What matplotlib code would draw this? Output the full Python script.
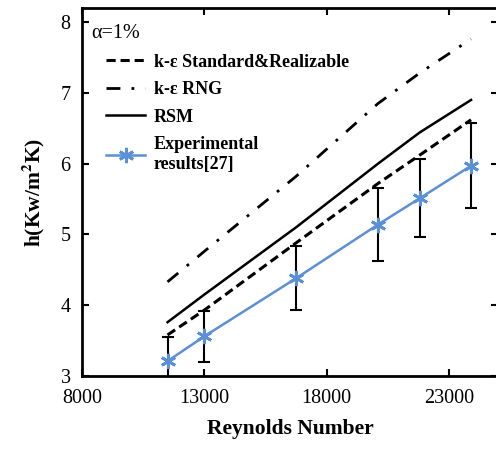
import numpy as np
import matplotlib
matplotlib.use('Agg')
import matplotlib.pyplot as plt
import matplotlib.ticker as ticker

plt.rcParams['font.family'] = ['Liberation Serif', 'DejaVu Serif']
plt.rcParams['mathtext.fontset'] = 'stix'

# data
re = [11500, 13000, 16750, 20100, 21800, 23900]
h_exp = [3.21, 3.56, 4.38, 5.14, 5.51, 5.97]
h_err = [0.34, 0.36, 0.45, 0.52, 0.55, 0.60]
h_std = [3.58, 3.93, 4.88, 5.72, 6.12, 6.62]
h_rng = [4.33, 4.76, 5.82, 6.85, 7.28, 7.76]
h_rsm = [3.76, 4.15, 5.10, 6.00, 6.44, 6.90]
x_ticks = [8000, 13000, 18000, 23000]

blue = '#5b8fd6'

fig = plt.figure(figsize=(4.96, 4.5), dpi=100)
ax = fig.add_axes([0.165, 0.1644, 0.839, 0.818])

l1, = ax.plot(re, h_std, color='black', lw=2.2, ls=(0, (3, 1.6)))
l2, = ax.plot(re, h_rng, color='black', lw=2.0, ls=(0, (5, 4, 1, 4)))
l3, = ax.plot(re, h_rsm, color='black', lw=1.8)
ax.errorbar(re, h_exp, yerr=h_err, fmt='none', ecolor='black', elinewidth=1.5,
            capsize=4, capthick=1.5, zorder=2)
l4, = ax.plot(re, h_exp, color=blue, lw=1.8, marker=(6, 2, 0), ms=11,
              mew=2, zorder=3)

ax.set_xlim(8000, 25000)
ax.set_ylim(3, 8.2)
ax.set_xticks(x_ticks)
ax.yaxis.set_major_locator(ticker.MultipleLocator(1))
ax.tick_params(direction='in', length=5, width=1.5, labelsize=14.5,
               top=True, right=True)
ax.tick_params(axis='x', pad=9)
ax.tick_params(axis='y', pad=8)
for s in ax.spines.values():
    s.set_linewidth(2)

ax.set_xlabel('Reynolds Number', fontsize=15.5, fontweight='bold', labelpad=8)
ax.set_ylabel('h(Kw/m$^\\mathbf{2}$K)', fontsize=15.5, fontweight='bold', labelpad=10)

ax.text(0.022, 0.955, 'α=1%', transform=ax.transAxes, fontsize=14.5,
        ha='left', va='top')
ax.legend([l1, l2, l3, l4],
          ['k-ε Standard&Realizable', 'k-ε RNG', 'RSM', 'Experimental\nresults[27]'],
          loc='upper left', bbox_to_anchor=(0.04, 0.895), frameon=False,
          prop={'weight': 'bold', 'size': 13}, handlelength=2.2,
          handletextpad=0.45, labelspacing=0.58, borderaxespad=0)

fig.savefig('out.png', dpi=100)
